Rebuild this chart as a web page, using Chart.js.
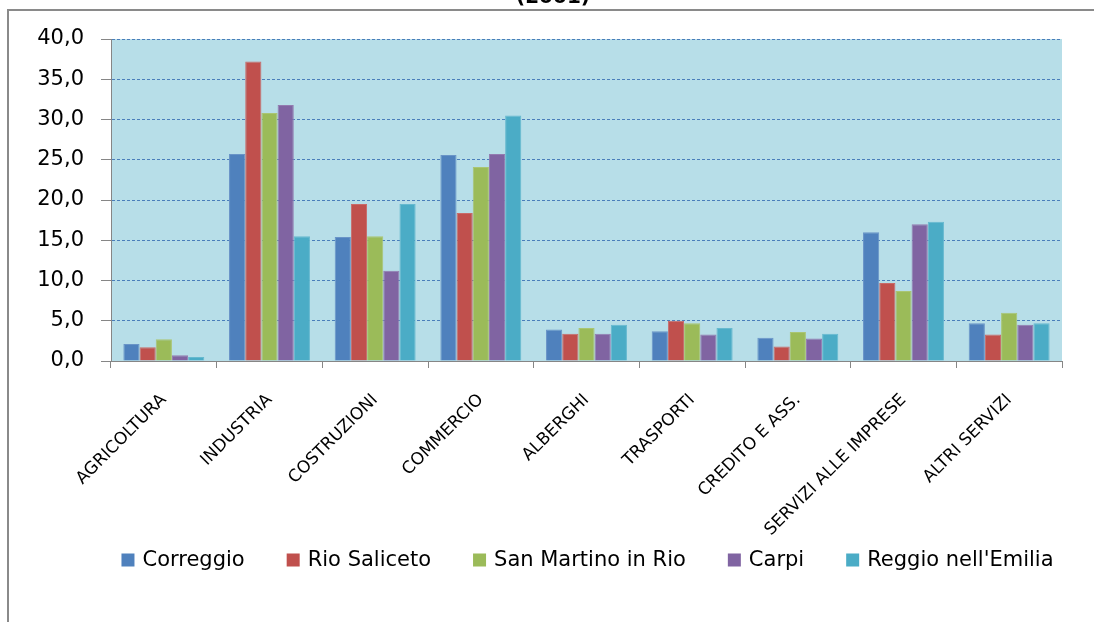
<!DOCTYPE html>
<html lang="it">
<head>
<meta charset="utf-8">
<title>Addetti per settore (2001)</title>
<script src="https://cdn.jsdelivr.net/npm/chart.js@4/dist/chart.umd.min.js"></script>
<style>
  html, body { margin: 0; padding: 0; background: #ffffff; }
  #wrap { position: relative; width: 1094px; height: 622px; overflow: hidden; }
  canvas { display: block; }
</style>
</head>
<body>
<div id="wrap"><canvas id="chart" width="1094" height="622"></canvas></div>
<script>
// Settori economici (asse delle categorie)
const CATEGORIES = [
  'AGRICOLTURA', 'INDUSTRIA', 'COSTRUZIONI', 'COMMERCIO', 'ALBERGHI',
  'TRASPORTI', 'CREDITO E ASS.', 'SERVIZI ALLE IMPRESE', 'ALTRI SERVIZI'
];

// Comuni confrontati
const SERIES_NAMES = ['Correggio', 'Rio Saliceto', 'San Martino in Rio', 'Carpi', "Reggio nell'Emilia"];
const SERIES_COLORS = ['#4F81BD', '#C0504D', '#9BBB59', '#8064A2', '#4BACC6'];
const SERIES_EDGES  = ['#6994C7', '#C96A68', '#AAC572', '#937BB0', '#66B9CF'];

// Quote percentuali per settore
const CORREGGIO    = [2.1, 25.7, 15.4, 25.6, 3.9, 3.7, 2.9, 16.0, 4.7];
const RIO_SALICETO = [1.7, 37.2, 19.5, 18.4, 3.4, 5.0, 1.8,  9.7, 3.3];
const SAN_MARTINO  = [2.7, 30.8, 15.5, 24.1, 4.1, 4.7, 3.6,  8.7, 6.0];
const CARPI        = [0.7, 31.8, 11.2, 25.7, 3.4, 3.3, 2.8, 17.0, 4.5];
const REGGIO       = [0.5, 15.5, 19.5, 30.5, 4.5, 4.1, 3.4, 17.3, 4.7];

// Asse dei valori
const Y_MIN = 0;
const Y_MAX = 40;
const Y_STEP = 5;

const TITLE = '(2001)';

const SERIES_VALUES = [CORREGGIO, RIO_SALICETO, SAN_MARTINO, CARPI, REGGIO];

const FONT = "'DejaVu Sans', sans-serif";
const AXIS_GRAY = '#868686';
const GRID_BLUE = '#4A7EBB';
const PLOT_BG = '#B7DEE8';

// Sfondo dell'area del grafico, cornice e titolo
const decorations = {
  id: 'decorations',
  beforeDraw(chart) {
    const { ctx, chartArea: a } = chart;
    ctx.save();
    ctx.fillStyle = PLOT_BG;
    ctx.fillRect(a.left, a.top, a.right - a.left, a.bottom - a.top);
    ctx.restore();
  },
  afterDraw(chart) {
    const { ctx, width, height } = chart;
    ctx.save();
    ctx.strokeStyle = '#8a8a8a';
    ctx.lineWidth = 2;
    ctx.beginPath();
    ctx.moveTo(8, height + 2);
    ctx.lineTo(8, 10);
    ctx.lineTo(width + 2, 10);
    ctx.stroke();
    ctx.fillStyle = '#000000';
    ctx.font = "bold 20px " + FONT;
    ctx.textAlign = 'center';
    ctx.textBaseline = 'alphabetic';
    ctx.fillText(TITLE, 553, 3);
    ctx.restore();
  }
};

// Legenda su una riga, centrata sotto l'area del grafico
const rowLegend = {
  id: 'rowLegend',
  afterDraw(chart, args, opts) {
    const { ctx, chartArea: a } = chart;
    const box = opts.box, textGap = opts.textGap, itemGap = opts.itemGap;
    ctx.save();
    ctx.font = opts.fontSize + 'px ' + FONT;
    const items = chart.data.datasets.map(ds => ({
      label: ds.label, color: ds.backgroundColor, w: ctx.measureText(ds.label).width
    }));
    const total = items.reduce((s, it) => s + box + textGap + it.w, 0) + itemGap * (items.length - 1);
    let x = (a.left + a.right) / 2 + 1 - total / 2;
    const y = opts.y;
    ctx.textAlign = 'left';
    ctx.textBaseline = 'middle';
    items.forEach(it => {
      ctx.fillStyle = it.color;
      ctx.fillRect(x, y - box / 2, box, box);
      ctx.fillStyle = '#000000';
      ctx.fillText(it.label, x + box + textGap, y + 1);
      x += box + textGap + it.w + itemGap;
    });
    ctx.restore();
  }
};

const datasets = SERIES_NAMES.map((name, i) => ({
  label: name,
  data: SERIES_VALUES[i],
  backgroundColor: SERIES_COLORS[i],
  borderColor: SERIES_EDGES[i],
  borderWidth: 1,
  categoryPercentage: 0.766,
  barPercentage: 1.0
}));

new Chart(document.getElementById('chart'), {
  type: 'bar',
  data: { labels: CATEGORIES, datasets },
  options: {
    responsive: false,
    animation: false,
    layout: { padding: { top: 39, right: 32, left: 0, bottom: 61 } },
    plugins: {
      title: { display: false },
      tooltip: { enabled: false },
      legend: { display: false },
      rowLegend: { y: 560, box: 13, textGap: 8, itemGap: 42, fontSize: 21 }
    },
    scales: {
      x: {
        afterFit(scale) { scale.height = 200; },
        grid: {
          offset: true,
          drawOnChartArea: false,
          drawTicks: true,
          tickLength: 7,
          tickColor: AXIS_GRAY
        },
        border: { display: true, color: AXIS_GRAY, width: 1 },
        ticks: {
          autoSkip: false,
          minRotation: 45,
          maxRotation: 45,
          padding: 22,
          color: '#000000',
          font: { family: FONT, size: 17 }
        }
      },
      y: {
        min: Y_MIN,
        max: Y_MAX,
        afterFit(scale) { scale.width = 111; },
        grid: {
          color: (ctx) => (ctx.tick && ctx.tick.value === Y_MIN) ? 'rgba(0,0,0,0)' : GRID_BLUE,
          lineWidth: 1,
          drawTicks: true,
          tickLength: 10,
          tickColor: AXIS_GRAY,
          tickBorderDash: []
        },
        border: { display: true, color: AXIS_GRAY, width: 1, dash: [3, 2] },
        ticks: {
          stepSize: Y_STEP,
          padding: 17,
          color: '#000000',
          font: { family: FONT, size: 21 },
          callback: (v) => Number(v).toFixed(1).replace('.', ',')
        }
      }
    }
  },
  plugins: [decorations, rowLegend]
});
</script>
</body>
</html>
